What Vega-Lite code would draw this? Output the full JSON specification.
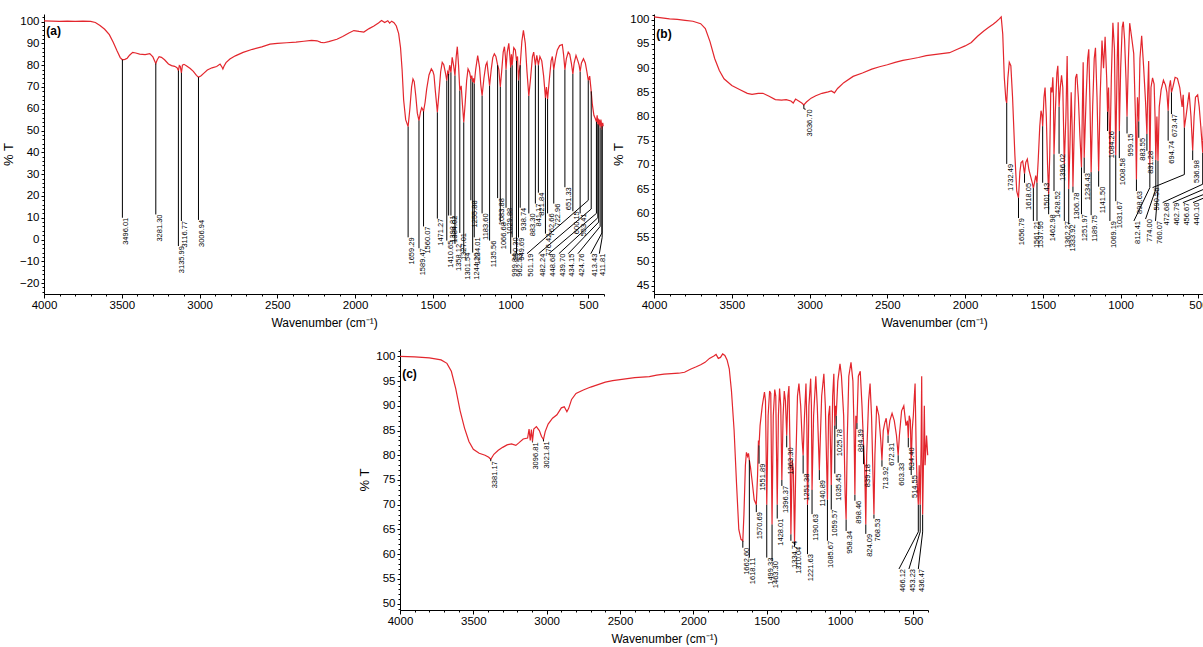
{
"$schema": "https://vega.github.io/schema/vega-lite/v6.json",
"padding": {"left": 2, "top": 13, "right": 0, "bottom": 0},
"background": "white",
"config": {
 "view": {"stroke": null},
 "axis": {"domainColor": "#000", "tickColor": "#000", "labelColor": "#000", "titleColor": "#000", "grid": false, "labelFont": "Liberation Sans", "labelFontSize": 11.5, "titleFont": "Liberation Sans", "titleFontWeight": "normal", "titleFontSize": 12}
},
"datasets": {
 "specA": [
  {"w":4000,"t":100.3},{"w":3950,"t":100.2},{"w":3900,"t":100.1},{"w":3850,"t":100.2},{"w":3800,"t":100.1},{"w":3750,"t":100.2},{"w":3700,"t":100.1},{"w":3670,"t":99.6},{"w":3640,"t":98.2},{"w":3610,"t":96.5},{"w":3580,"t":94},{"w":3555,"t":90.5},{"w":3530,"t":86.5},{"w":3510,"t":83.5},{"w":3496.01,"t":82.5},{"w":3480,"t":82.7},{"w":3465,"t":83.2},{"w":3450,"t":84.6},{"w":3430,"t":85.9},{"w":3410,"t":85.6},{"w":3385,"t":85.1},{"w":3350,"t":84.9},{"w":3320,"t":85.3},{"w":3300,"t":83.8},{"w":3290,"t":82.2},{"w":3281.3,"t":80.8},{"w":3272,"t":82.5},{"w":3260,"t":83.9},{"w":3245,"t":83.6},{"w":3225,"t":82.5},{"w":3200,"t":80.6},{"w":3180,"t":79.8},{"w":3160,"t":79.5},{"w":3145,"t":78.9},{"w":3135.99,"t":77.5},{"w":3130,"t":79.8},{"w":3124,"t":79.5},{"w":3116.77,"t":76.5},{"w":3110,"t":80},{"w":3100,"t":80.4},{"w":3085,"t":79.8},{"w":3060,"t":78.5},{"w":3040,"t":77.2},{"w":3020,"t":75.3},{"w":3006.94,"t":74.5},{"w":2990,"t":75.2},{"w":2970,"t":76.5},{"w":2950,"t":77.8},{"w":2920,"t":78.8},{"w":2890,"t":79.4},{"w":2868,"t":80.5},{"w":2856,"t":79.2},{"w":2850,"t":78.3},{"w":2843,"t":79.5},{"w":2830,"t":81.2},{"w":2805,"t":82.8},{"w":2770,"t":84.3},{"w":2720,"t":85.9},{"w":2660,"t":87.3},{"w":2600,"t":88.4},{"w":2547,"t":89.7},{"w":2500,"t":90},{"w":2440,"t":90.3},{"w":2380,"t":90.6},{"w":2330,"t":91},{"w":2280,"t":91.4},{"w":2245,"t":91.2},{"w":2220,"t":90.5},{"w":2200,"t":90.3},{"w":2170,"t":90.8},{"w":2117,"t":91.9},{"w":2080,"t":93.2},{"w":2040,"t":94.8},{"w":2008,"t":95.9},{"w":1975,"t":95.5},{"w":1944,"t":95.2},{"w":1910,"t":96.8},{"w":1879,"t":98},{"w":1850,"t":99.4},{"w":1830,"t":100.5},{"w":1810,"t":99.6},{"w":1790,"t":100.4},{"w":1778,"t":99.3},{"w":1765,"t":100.2},{"w":1750,"t":99.5},{"w":1735,"t":98},{"w":1720,"t":94.5},{"w":1708,"t":88},{"w":1698,"t":78},{"w":1688,"t":64},{"w":1675,"t":55},{"w":1659.29,"t":51.8},{"w":1648,"t":60},{"w":1637,"t":70},{"w":1628,"t":73.7},{"w":1620,"t":72.5},{"w":1610,"t":66},{"w":1600,"t":58},{"w":1589.47,"t":54.6},{"w":1580,"t":58.5},{"w":1572,"t":60.5},{"w":1566,"t":59.8},{"w":1560.07,"t":58.8},{"w":1550,"t":63},{"w":1540,"t":69},{"w":1525,"t":75.5},{"w":1510,"t":78.3},{"w":1500,"t":77.2},{"w":1493,"t":75.5},{"w":1484,"t":68},{"w":1471.27,"t":58.4},{"w":1460,"t":68},{"w":1450,"t":77},{"w":1440,"t":81.3},{"w":1430,"t":80.2},{"w":1418,"t":76},{"w":1410.65,"t":72.9},{"w":1405,"t":77},{"w":1398.81,"t":76},{"w":1392,"t":80},{"w":1384.02,"t":76.7},{"w":1376,"t":83.6},{"w":1367,"t":80},{"w":1358.12,"t":75.2},{"w":1350,"t":84},{"w":1343,"t":88.5},{"w":1335,"t":80},{"w":1327.01,"t":68.3},{"w":1318,"t":70.5},{"w":1310,"t":62},{"w":1301.54,"t":53.8},{"w":1292,"t":63},{"w":1283,"t":73},{"w":1274,"t":78.3},{"w":1264,"t":76.8},{"w":1255.88,"t":73.7},{"w":1250,"t":75.2},{"w":1244.2,"t":72.2},{"w":1239,"t":74},{"w":1234.01,"t":71.6},{"w":1225,"t":78},{"w":1212,"t":84.4},{"w":1200,"t":79},{"w":1192,"t":71},{"w":1183.6,"t":66},{"w":1172,"t":74},{"w":1160,"t":80},{"w":1152,"t":81.3},{"w":1144,"t":76},{"w":1135.56,"t":70.6},{"w":1125,"t":78},{"w":1115,"t":83.5},{"w":1105,"t":85.2},{"w":1095,"t":84},{"w":1088,"t":81.5},{"w":1083.88,"t":80},{"w":1076,"t":78},{"w":1066.68,"t":70},{"w":1058,"t":77},{"w":1048,"t":86},{"w":1040,"t":88.5},{"w":1034,"t":84},{"w":1029.88,"t":78},{"w":1022,"t":86},{"w":1012,"t":90},{"w":1005,"t":84},{"w":999.84,"t":79},{"w":995,"t":85},{"w":990.3,"t":80},{"w":980,"t":88},{"w":970,"t":87},{"w":962.53,"t":82},{"w":956,"t":84},{"w":949.69,"t":73},{"w":944,"t":77.5},{"w":938.74,"t":80},{"w":928,"t":91},{"w":918,"t":96},{"w":906,"t":90},{"w":895,"t":77},{"w":883.3,"t":65.9},{"w":872,"t":74},{"w":860,"t":84},{"w":852,"t":86},{"w":841.17,"t":80},{"w":832,"t":84.5},{"w":821.84,"t":80},{"w":812,"t":84},{"w":800,"t":82},{"w":788,"t":75},{"w":776.42,"t":65},{"w":770,"t":70},{"w":762.66,"t":64.5},{"w":752,"t":73},{"w":740,"t":82},{"w":732,"t":84},{"w":722.96,"t":78},{"w":712,"t":83},{"w":700,"t":87},{"w":685,"t":89},{"w":668,"t":89.5},{"w":660,"t":85},{"w":651.33,"t":78},{"w":642,"t":83},{"w":630,"t":86},{"w":620,"t":85},{"w":610,"t":81},{"w":600.15,"t":76},{"w":592,"t":81},{"w":580,"t":84.5},{"w":568,"t":82},{"w":560,"t":80},{"w":553.41,"t":77},{"w":545,"t":81},{"w":532,"t":83},{"w":520,"t":81},{"w":510,"t":77},{"w":501.19,"t":73},{"w":492,"t":75},{"w":482.24,"t":68},{"w":475,"t":62},{"w":465,"t":57},{"w":456,"t":55.5},{"w":448.68,"t":54},{"w":444,"t":57},{"w":439.7,"t":53},{"w":437,"t":55.5},{"w":434.15,"t":52.5},{"w":430,"t":55},{"w":424.76,"t":51.5},{"w":420,"t":55},{"w":416,"t":53},{"w":413.43,"t":50.5},{"w":411.81,"t":52},{"w":408,"t":53.5},{"w":405,"t":52}
 ],
 "annA": [
  {"lab":"3496.01","w":3496.01,"t":82.5,"yb":10,"lx":3496.01,"ly":10},
  {"lab":"3281.30","w":3281.3,"t":80.8,"yb":11.5,"lx":3281.3,"ly":11.5},
  {"lab":"3135.99","w":3135.99,"t":77.5,"yb":-3,"lx":3135.99,"ly":-3},
  {"lab":"3116.77","w":3116.77,"t":76.5,"yb":8.5,"lx":3116.77,"ly":8.5},
  {"lab":"3006.94","w":3006.94,"t":74.5,"yb":9,"lx":3006.94,"ly":9},
  {"lab":"1659.29","w":1659.29,"t":51.8,"yb":1,"lx":1659.29,"ly":1},
  {"lab":"1589.47","w":1589.47,"t":54.6,"yb":-4,"lx":1589.47,"ly":-4},
  {"lab":"1560.07","w":1560.07,"t":58.8,"yb":6,"lx":1560.07,"ly":6},
  {"lab":"1471.27","w":1471.27,"t":58.4,"yb":9.6,"lx":1471.27,"ly":9.6},
  {"lab":"1410.65","w":1410.65,"t":72.9,"yb":-0.5,"lx":1410.65,"ly":-0.5},
  {"lab":"1398.81","w":1398.81,"t":76,"yb":11,"lx":1398.81,"ly":11},
  {"lab":"1384.02","w":1384.02,"t":76.7,"yb":11,"lx":1384.02,"ly":11},
  {"lab":"1358.12","w":1358.12,"t":75.2,"yb":-2,"lx":1358.12,"ly":-2},
  {"lab":"1327.01","w":1327.01,"t":68.3,"yb":3,"lx":1327.01,"ly":3},
  {"lab":"1301.54","w":1301.54,"t":53.8,"yb":-6,"lx":1301.54,"ly":-6},
  {"lab":"1255.88","w":1255.88,"t":73.7,"yb":18,"lx":1255.88,"ly":18},
  {"lab":"1244.20","w":1244.2,"t":72.2,"yb":-6,"lx":1244.2,"ly":-6},
  {"lab":"1234.01","w":1234.01,"t":71.6,"yb":1,"lx":1234.01,"ly":1},
  {"lab":"1183.60","w":1183.6,"t":66,"yb":12,"lx":1183.6,"ly":12},
  {"lab":"1135.56","w":1135.56,"t":70.6,"yb":-0.5,"lx":1135.56,"ly":-0.5},
  {"lab":"1083.88","w":1083.88,"t":80,"yb":19,"lx":1083.88,"ly":19},
  {"lab":"1066.68","w":1066.68,"t":70,"yb":8,"lx":1066.68,"ly":8},
  {"lab":"1029.88","w":1029.88,"t":78,"yb":14.6,"lx":1029.88,"ly":14.6},
  {"lab":"999.84","w":999.84,"t":79,"yb":-6.5,"lx":999.84,"ly":-6.5},
  {"lab":"990.30","w":990.3,"t":80,"yb":1,"lx":990.3,"ly":1},
  {"lab":"962.53","w":962.53,"t":82,"yb":-6.5,"lx":962.53,"ly":-6.5},
  {"lab":"949.69","w":949.69,"t":73,"yb":0.9,"lx":949.69,"ly":0.9},
  {"lab":"938.74","w":938.74,"t":80,"yb":14.6,"lx":938.74,"ly":14.6},
  {"lab":"883.30","w":883.3,"t":65.9,"yb":12,"lx":883.3,"ly":12},
  {"lab":"841.17","w":841.17,"t":80,"yb":16.5,"lx":841.17,"ly":16.5},
  {"lab":"821.84","w":821.84,"t":80,"yb":21.5,"lx":821.84,"ly":21.5},
  {"lab":"776.42","w":776.42,"t":65,"yb":2.7,"lx":776.42,"ly":2.7},
  {"lab":"762.66","w":762.66,"t":64.5,"yb":12,"lx":762.66,"ly":12},
  {"lab":"722.96","w":722.96,"t":78,"yb":16.5,"lx":722.96,"ly":16.5},
  {"lab":"651.33","w":651.33,"t":78,"yb":24,"lx":651.33,"ly":24},
  {"lab":"600.15","w":600.15,"t":76,"yb":13,"lx":600.15,"ly":13},
  {"lab":"553.41","w":553.41,"t":77,"yb":12,"lx":553.41,"ly":12},
  {"lab":"501.19","w":501.19,"t":73,"yb":18,"lx":895,"ly":-6.5},
  {"lab":"482.24","w":482.24,"t":68,"yb":14,"lx":820,"ly":-6.5},
  {"lab":"448.68","w":448.68,"t":54,"yb":12,"lx":755,"ly":-6.5},
  {"lab":"439.70","w":439.7,"t":53,"yb":10,"lx":690,"ly":-6.5},
  {"lab":"434.15","w":434.15,"t":52.5,"yb":8,"lx":630,"ly":-6.5},
  {"lab":"424.76","w":424.76,"t":51.5,"yb":6,"lx":568,"ly":-6.5},
  {"lab":"413.43","w":413.43,"t":50.5,"yb":3,"lx":485,"ly":-6.5},
  {"lab":"411.81","w":411.81,"t":52,"yb":1,"lx":430,"ly":-6.5}
 ],
 "specB": [
  {"w":4000,"t":100.6},{"w":3950,"t":100.4},{"w":3900,"t":100.2},{"w":3850,"t":100.1},{"w":3800,"t":99.9},{"w":3750,"t":99.7},{"w":3700,"t":99.2},{"w":3670,"t":98.2},{"w":3640,"t":95.5},{"w":3610,"t":92},{"w":3580,"t":89.5},{"w":3550,"t":87.8},{"w":3500,"t":86.4},{"w":3450,"t":85.6},{"w":3400,"t":84.8},{"w":3370,"t":84.6},{"w":3330,"t":84.8},{"w":3300,"t":84.8},{"w":3260,"t":84.2},{"w":3220,"t":83.5},{"w":3180,"t":83.4},{"w":3150,"t":83.5},{"w":3120,"t":83.2},{"w":3105,"t":82.8},{"w":3090,"t":83.6},{"w":3070,"t":83.2},{"w":3050,"t":82.8},{"w":3036.7,"t":82.4},{"w":3020,"t":83},{"w":2990,"t":83.8},{"w":2960,"t":84.3},{"w":2920,"t":84.8},{"w":2880,"t":85.1},{"w":2860,"t":85.3},{"w":2840,"t":84.9},{"w":2820,"t":85.8},{"w":2780,"t":87},{"w":2720,"t":88.3},{"w":2660,"t":89},{"w":2600,"t":89.8},{"w":2550,"t":90.3},{"w":2500,"t":90.7},{"w":2450,"t":91.2},{"w":2400,"t":91.6},{"w":2350,"t":91.9},{"w":2300,"t":92.2},{"w":2250,"t":92.6},{"w":2200,"t":92.8},{"w":2150,"t":93},{"w":2100,"t":93.2},{"w":2050,"t":93.9},{"w":2000,"t":94.6},{"w":1960,"t":95.3},{"w":1920,"t":96.6},{"w":1880,"t":97.7},{"w":1850,"t":98.4},{"w":1820,"t":99.1},{"w":1800,"t":99.6},{"w":1780,"t":100.2},{"w":1768,"t":100.6},{"w":1758,"t":97},{"w":1748,"t":88},{"w":1738,"t":83.5},{"w":1732.49,"t":82.8},{"w":1725,"t":88},{"w":1716,"t":91.2},{"w":1706,"t":90.5},{"w":1695,"t":84},{"w":1680,"t":72},{"w":1668,"t":64.5},{"w":1656.79,"t":63.2},{"w":1648,"t":68.5},{"w":1640,"t":70.5},{"w":1630,"t":70.8},{"w":1624,"t":69.5},{"w":1618.05,"t":68.2},{"w":1610,"t":70.5},{"w":1600,"t":71.2},{"w":1590,"t":69},{"w":1578,"t":67.5},{"w":1568,"t":66.3},{"w":1561.21,"t":65.2},{"w":1553,"t":66.5},{"w":1546,"t":67.8},{"w":1537.95,"t":66.3},{"w":1530,"t":71},{"w":1520,"t":78},{"w":1512,"t":81.2},{"w":1506,"t":80.3},{"w":1501.43,"t":78},{"w":1493,"t":84},{"w":1486,"t":86},{"w":1478,"t":80},{"w":1470,"t":70},{"w":1462.98,"t":63.9},{"w":1456,"t":72},{"w":1449,"t":86},{"w":1442,"t":85},{"w":1436,"t":88.1},{"w":1432,"t":84},{"w":1428.52,"t":72.2},{"w":1420,"t":81},{"w":1410,"t":89},{"w":1404,"t":90.5},{"w":1399,"t":86},{"w":1396.02,"t":82},{"w":1388,"t":86},{"w":1380,"t":88.5},{"w":1372,"t":86},{"w":1362.27,"t":70.2},{"w":1352,"t":80},{"w":1344,"t":92.5},{"w":1338,"t":78},{"w":1333.92,"t":65},{"w":1326,"t":74},{"w":1318,"t":85},{"w":1312,"t":78},{"w":1306.78,"t":65.5},{"w":1298,"t":78},{"w":1290,"t":88},{"w":1282,"t":88.8},{"w":1272,"t":84},{"w":1262,"t":76},{"w":1251.97,"t":69.5},{"w":1246,"t":82},{"w":1241,"t":91.2},{"w":1238,"t":82},{"w":1234.43,"t":71.5},{"w":1222,"t":84},{"w":1212,"t":92},{"w":1205,"t":93.9},{"w":1198,"t":84},{"w":1189.75,"t":68.5},{"w":1180,"t":82},{"w":1170,"t":92},{"w":1162,"t":94.2},{"w":1152,"t":84},{"w":1141.5,"t":68.7},{"w":1132,"t":84},{"w":1120,"t":95.7},{"w":1110,"t":90},{"w":1100,"t":96.5},{"w":1090,"t":88},{"w":1084.26,"t":81},{"w":1078,"t":86},{"w":1069.19,"t":72},{"w":1060,"t":88},{"w":1050,"t":99.4},{"w":1040,"t":94},{"w":1031.67,"t":72},{"w":1022,"t":92},{"w":1016,"t":99.5},{"w":1008.58,"t":77},{"w":1000,"t":90},{"w":990,"t":98.5},{"w":983,"t":99.6},{"w":975,"t":96},{"w":966,"t":88},{"w":959.15,"t":80},{"w":950,"t":92},{"w":942,"t":99.3},{"w":930,"t":96.5},{"w":916,"t":93},{"w":905,"t":80},{"w":898.63,"t":67},{"w":892,"t":84},{"w":883.55,"t":79},{"w":876,"t":92},{"w":865,"t":96.7},{"w":852,"t":90},{"w":840,"t":83},{"w":831.28,"t":76.4},{"w":826,"t":85},{"w":820,"t":91.5},{"w":816,"t":82},{"w":812.41,"t":70},{"w":805,"t":86},{"w":795,"t":88},{"w":785,"t":86.7},{"w":779,"t":80},{"w":774,"t":71},{"w":767,"t":80},{"w":760.07,"t":70.8},{"w":752,"t":82},{"w":740,"t":85.5},{"w":725,"t":87.5},{"w":712,"t":86.5},{"w":703,"t":85},{"w":694.74,"t":81.2},{"w":688,"t":86},{"w":680,"t":87.5},{"w":673.47,"t":85},{"w":665,"t":86},{"w":650,"t":88.1},{"w":635,"t":87.9},{"w":620,"t":86},{"w":605,"t":82},{"w":598,"t":84.5},{"w":590.56,"t":77.7},{"w":580,"t":80},{"w":570,"t":82.5},{"w":560,"t":85},{"w":548,"t":80},{"w":536.98,"t":73},{"w":528,"t":80},{"w":519,"t":84},{"w":505,"t":84.5},{"w":495,"t":82},{"w":485,"t":78},{"w":472.68,"t":72.5},{"w":468,"t":78},{"w":462.79,"t":70},{"w":459,"t":76},{"w":456.67,"t":69},{"w":450,"t":75},{"w":445,"t":78},{"w":440.1,"t":68},{"w":432,"t":74},{"w":420,"t":72},{"w":410,"t":75},{"w":400,"t":74}
 ],
 "annB": [
  {"lab":"3036.70","w":3036.7,"t":82.4,"yb":81.6,"lx":3025,"ly":81.5},
  {"lab":"1732.49","w":1732.49,"t":82.8,"yb":70.2,"lx":1732.49,"ly":70.2},
  {"lab":"1656.79","w":1656.79,"t":63.2,"yb":59,"lx":1656.79,"ly":59},
  {"lab":"1618.05","w":1618.05,"t":68.2,"yb":66.3,"lx":1618.05,"ly":66.3},
  {"lab":"1561.21","w":1561.21,"t":65.2,"yb":58.4,"lx":1561.21,"ly":58.4},
  {"lab":"1537.95","w":1537.95,"t":66.3,"yb":58.4,"lx":1537.95,"ly":58.4},
  {"lab":"1501.43","w":1501.43,"t":78,"yb":66.3,"lx":1501.43,"ly":66.3},
  {"lab":"1462.98","w":1462.98,"t":63.9,"yb":59.8,"lx":1462.98,"ly":59.8},
  {"lab":"1428.52","w":1428.52,"t":72.2,"yb":64.6,"lx":1428.52,"ly":64.6},
  {"lab":"1396.02","w":1396.02,"t":82,"yb":72.3,"lx":1396.02,"ly":72.3},
  {"lab":"1362.27","w":1362.27,"t":70.2,"yb":58.4,"lx":1362.27,"ly":58.4},
  {"lab":"1333.92","w":1333.92,"t":65,"yb":57.7,"lx":1333.92,"ly":57.7},
  {"lab":"1306.78","w":1306.78,"t":65.5,"yb":64.3,"lx":1306.78,"ly":64.3},
  {"lab":"1251.97","w":1251.97,"t":69.5,"yb":59.8,"lx":1251.97,"ly":59.8},
  {"lab":"1234.43","w":1234.43,"t":71.5,"yb":68.3,"lx":1234.43,"ly":68.3},
  {"lab":"1189.75","w":1189.75,"t":68.5,"yb":59.6,"lx":1189.75,"ly":59.6},
  {"lab":"1141.50","w":1141.5,"t":68.7,"yb":65.5,"lx":1141.5,"ly":65.5},
  {"lab":"1084.26","w":1084.26,"t":81,"yb":77,"lx":1084.26,"ly":77},
  {"lab":"1069.19","w":1069.19,"t":72,"yb":58.4,"lx":1069.19,"ly":58.4},
  {"lab":"1031.67","w":1031.67,"t":72,"yb":62.5,"lx":1031.67,"ly":62.5},
  {"lab":"1008.58","w":1008.58,"t":77,"yb":71.4,"lx":1008.58,"ly":71.4},
  {"lab":"959.15","w":959.15,"t":80,"yb":76.5,"lx":959.15,"ly":76.5},
  {"lab":"898.63","w":898.63,"t":67,"yb":64.6,"lx":898.63,"ly":64.6},
  {"lab":"883.55","w":883.55,"t":79,"yb":75.6,"lx":883.55,"ly":75.6},
  {"lab":"831.28","w":831.28,"t":76.4,"yb":72.9,"lx":831.28,"ly":72.9},
  {"lab":"812.41","w":812.41,"t":70,"yb":65.3,"lx":915,"ly":58.4},
  {"lab":"774.00","w":774,"t":71,"yb":65,"lx":840,"ly":58.8},
  {"lab":"760.07","w":760.07,"t":70.8,"yb":65,"lx":776,"ly":58.4},
  {"lab":"590.56","w":590.56,"t":77.7,"yb":68,"lx":795,"ly":65.3},
  {"lab":"694.74","w":694.74,"t":81.2,"yb":75,"lx":694.74,"ly":75},
  {"lab":"673.47","w":673.47,"t":85,"yb":80.5,"lx":673.47,"ly":80.5},
  {"lab":"536.98","w":536.98,"t":73,"yb":71,"lx":536.98,"ly":71},
  {"lab":"472.68","w":472.68,"t":72.5,"yb":66,"lx":730,"ly":62.2},
  {"lab":"462.79","w":462.79,"t":70,"yb":65,"lx":665,"ly":62.2},
  {"lab":"456.67","w":456.67,"t":69,"yb":64,"lx":600,"ly":62.2},
  {"lab":"440.10","w":440.1,"t":68,"yb":63.5,"lx":535,"ly":62.2}
 ],
 "specC": [
  {"w":4000,"t":100},{"w":3900,"t":99.9},{"w":3800,"t":99.7},{"w":3720,"t":99.3},{"w":3680,"t":98.6},{"w":3650,"t":97},{"w":3620,"t":93.5},{"w":3590,"t":89},{"w":3560,"t":85.5},{"w":3530,"t":82.8},{"w":3500,"t":81.2},{"w":3460,"t":80.4},{"w":3420,"t":80},{"w":3395,"t":79.6},{"w":3381.17,"t":79.2},{"w":3360,"t":80.2},{"w":3330,"t":81},{"w":3300,"t":81.6},{"w":3270,"t":82.1},{"w":3240,"t":82.3},{"w":3210,"t":82},{"w":3190,"t":82.5},{"w":3160,"t":83.3},{"w":3130,"t":83.5},{"w":3120,"t":85.3},{"w":3112,"t":83},{"w":3104,"t":85.2},{"w":3096.81,"t":82.8},{"w":3088,"t":85.3},{"w":3070,"t":85.8},{"w":3050,"t":85},{"w":3035,"t":83.8},{"w":3021.81,"t":83.2},{"w":3010,"t":84.8},{"w":2990,"t":86.3},{"w":2960,"t":87.5},{"w":2930,"t":88.2},{"w":2900,"t":89.6},{"w":2880,"t":89.8},{"w":2862,"t":88.8},{"w":2850,"t":89.5},{"w":2830,"t":91.3},{"w":2800,"t":92.5},{"w":2750,"t":93.2},{"w":2700,"t":93.8},{"w":2650,"t":94.3},{"w":2600,"t":94.8},{"w":2550,"t":95.1},{"w":2500,"t":95.3},{"w":2450,"t":95.5},{"w":2400,"t":95.7},{"w":2350,"t":95.8},{"w":2300,"t":95.9},{"w":2250,"t":96.2},{"w":2200,"t":96.4},{"w":2150,"t":96.5},{"w":2100,"t":96.6},{"w":2060,"t":96.8},{"w":2020,"t":97.4},{"w":1980,"t":97.9},{"w":1950,"t":98.3},{"w":1920,"t":98.8},{"w":1890,"t":99.6},{"w":1860,"t":100.1},{"w":1845,"t":100.4},{"w":1830,"t":99.6},{"w":1815,"t":99.8},{"w":1800,"t":100.5},{"w":1785,"t":100.2},{"w":1770,"t":99.3},{"w":1755,"t":97.5},{"w":1740,"t":93},{"w":1722,"t":85},{"w":1705,"t":74},{"w":1690,"t":65},{"w":1675,"t":63},{"w":1662.6,"t":62.7},{"w":1655,"t":68},{"w":1645,"t":78},{"w":1638,"t":80.6},{"w":1630,"t":79.8},{"w":1624,"t":80.4},{"w":1618.11,"t":79},{"w":1610,"t":77.5},{"w":1600,"t":75},{"w":1585,"t":71},{"w":1570.69,"t":70},{"w":1562,"t":76},{"w":1556,"t":83},{"w":1551.89,"t":82},{"w":1545,"t":86},{"w":1530,"t":90},{"w":1515,"t":92.8},{"w":1508,"t":91},{"w":1499.33,"t":70},{"w":1490,"t":88},{"w":1480,"t":93},{"w":1472,"t":92.5},{"w":1463.3,"t":66},{"w":1455,"t":88},{"w":1445,"t":93.3},{"w":1438,"t":92},{"w":1428.01,"t":70},{"w":1420,"t":88},{"w":1412,"t":93.5},{"w":1404,"t":90},{"w":1396.37,"t":75},{"w":1388,"t":88},{"w":1380,"t":93},{"w":1372,"t":91},{"w":1363.3,"t":84},{"w":1355,"t":92},{"w":1348,"t":94},{"w":1340,"t":80},{"w":1334.74,"t":64},{"w":1326,"t":79},{"w":1318,"t":77},{"w":1310.04,"t":62.5},{"w":1300,"t":80},{"w":1290,"t":92},{"w":1280,"t":94.5},{"w":1268,"t":90},{"w":1258,"t":83},{"w":1251.38,"t":80},{"w":1242,"t":88},{"w":1232,"t":94.5},{"w":1226,"t":86},{"w":1221.63,"t":70},{"w":1212,"t":90},{"w":1200,"t":95.5},{"w":1195,"t":90},{"w":1190.63,"t":73},{"w":1180,"t":88},{"w":1165,"t":96},{"w":1155,"t":90},{"w":1140.89,"t":77},{"w":1125,"t":92},{"w":1110,"t":96.5},{"w":1100,"t":90},{"w":1085.67,"t":71},{"w":1078,"t":88},{"w":1070,"t":90},{"w":1059.57,"t":74},{"w":1050,"t":92},{"w":1042,"t":96.5},{"w":1035.45,"t":86},{"w":1031,"t":90},{"w":1025.78,"t":88},{"w":1015,"t":95},{"w":1000,"t":98.5},{"w":990,"t":96},{"w":975,"t":88},{"w":965,"t":72},{"w":958.34,"t":67},{"w":950,"t":84},{"w":940,"t":96},{"w":925,"t":98.8},{"w":912,"t":95},{"w":904,"t":85},{"w":898.46,"t":72},{"w":892,"t":88},{"w":884.39,"t":86.5},{"w":875,"t":96},{"w":862,"t":97},{"w":850,"t":90},{"w":839.18,"t":82},{"w":832,"t":78},{"w":824.09,"t":66},{"w":818,"t":80},{"w":805,"t":91},{"w":795,"t":94.5},{"w":785,"t":88},{"w":775,"t":76},{"w":768.53,"t":68},{"w":762,"t":80},{"w":750,"t":90},{"w":735,"t":88},{"w":722,"t":83},{"w":713.92,"t":79},{"w":705,"t":85},{"w":695,"t":86.5},{"w":685,"t":87.5},{"w":672.31,"t":84},{"w":660,"t":87},{"w":645,"t":88.5},{"w":630,"t":87},{"w":615,"t":84},{"w":603.33,"t":80},{"w":595,"t":84},{"w":580,"t":89},{"w":565,"t":90},{"w":550,"t":86},{"w":540,"t":87},{"w":534.4,"t":83.5},{"w":528,"t":88},{"w":520,"t":87},{"w":514.55,"t":78},{"w":508,"t":85},{"w":500,"t":88},{"w":493,"t":92},{"w":488,"t":94.5},{"w":480,"t":80},{"w":475,"t":75},{"w":466.12,"t":70},{"w":460,"t":78},{"w":453.23,"t":70},{"w":447,"t":82},{"w":443,"t":96},{"w":440,"t":80},{"w":436.47,"t":68},{"w":430,"t":80},{"w":425,"t":90},{"w":420,"t":78},{"w":410,"t":84},{"w":402,"t":80}
 ],
 "annC": [
  {"lab":"3381.17","w":3381.17,"t":79.2,"yb":78.8,"lx":3381.17,"ly":78.8},
  {"lab":"3096.81","w":3096.81,"t":82.8,"yb":82.6,"lx":3096.81,"ly":82.6},
  {"lab":"3021.81","w":3021.81,"t":83.2,"yb":82.8,"lx":3021.81,"ly":82.8},
  {"lab":"1662.60","w":1662.6,"t":62.7,"yb":61.3,"lx":1662.6,"ly":61.3},
  {"lab":"1618.11","w":1618.11,"t":79,"yb":59.3,"lx":1618.11,"ly":59.3},
  {"lab":"1570.69","w":1570.69,"t":70,"yb":68.5,"lx":1570.69,"ly":68.5},
  {"lab":"1551.89","w":1551.89,"t":82,"yb":78.3,"lx":1551.89,"ly":78.3},
  {"lab":"1499.33","w":1499.33,"t":70,"yb":59.3,"lx":1499.33,"ly":59.3},
  {"lab":"1463.30","w":1463.3,"t":66,"yb":58.6,"lx":1463.3,"ly":58.6},
  {"lab":"1428.01","w":1428.01,"t":70,"yb":67.2,"lx":1428.01,"ly":67.2},
  {"lab":"1396.37","w":1396.37,"t":75,"yb":73.8,"lx":1396.37,"ly":73.8},
  {"lab":"1363.30","w":1363.3,"t":84,"yb":81.6,"lx":1363.3,"ly":81.6},
  {"lab":"1334.74","w":1334.74,"t":64,"yb":62.7,"lx":1334.74,"ly":62.7},
  {"lab":"1310.04","w":1310.04,"t":62.5,"yb":61.5,"lx":1310.04,"ly":61.5},
  {"lab":"1251.38","w":1251.38,"t":80,"yb":76.3,"lx":1251.38,"ly":76.3},
  {"lab":"1221.63","w":1221.63,"t":70,"yb":60,"lx":1221.63,"ly":60},
  {"lab":"1190.63","w":1190.63,"t":73,"yb":68.1,"lx":1190.63,"ly":68.1},
  {"lab":"1140.89","w":1140.89,"t":77,"yb":75,"lx":1140.89,"ly":75},
  {"lab":"1085.67","w":1085.67,"t":71,"yb":62.7,"lx":1085.67,"ly":62.7},
  {"lab":"1059.57","w":1059.57,"t":74,"yb":69,"lx":1059.57,"ly":69},
  {"lab":"1035.45","w":1035.45,"t":86,"yb":76.3,"lx":1035.45,"ly":76.3},
  {"lab":"1025.78","w":1025.78,"t":88,"yb":85.3,"lx":1025.78,"ly":85.3},
  {"lab":"958.34","w":958.34,"t":67,"yb":64.7,"lx":958.34,"ly":64.7},
  {"lab":"898.46","w":898.46,"t":72,"yb":70.8,"lx":898.46,"ly":70.8},
  {"lab":"884.39","w":884.39,"t":86.5,"yb":85.3,"lx":884.39,"ly":85.3},
  {"lab":"839.18","w":839.18,"t":82,"yb":78.2,"lx":839.18,"ly":78.2},
  {"lab":"824.09","w":824.09,"t":66,"yb":64.1,"lx":824.09,"ly":64.1},
  {"lab":"768.53","w":768.53,"t":68,"yb":67.2,"lx":768.53,"ly":67.2},
  {"lab":"713.92","w":713.92,"t":79,"yb":77.7,"lx":713.92,"ly":77.7},
  {"lab":"672.31","w":672.31,"t":84,"yb":82.5,"lx":672.31,"ly":82.5},
  {"lab":"603.33","w":603.33,"t":80,"yb":78.5,"lx":603.33,"ly":78.5},
  {"lab":"534.40","w":534.4,"t":83.5,"yb":81.6,"lx":534.4,"ly":81.6},
  {"lab":"514.55","w":514.55,"t":78,"yb":76,"lx":514.55,"ly":76},
  {"lab":"466.12","w":466.12,"t":70,"yb":64.5,"lx":598,"ly":57},
  {"lab":"453.23","w":453.23,"t":70,"yb":64.5,"lx":530,"ly":57},
  {"lab":"436.47","w":436.47,"t":68,"yb":64.5,"lx":466,"ly":57}
 ]
},
"vconcat": [
 {"hconcat": [
  {"width": 560, "height": 280,
   "layer": [
    {"data": {"name": "specA"}, "mark": {"type": "line", "color": "#e3262d", "strokeWidth": 1.2},
     "encoding": {
      "x": {"field": "w", "type": "quantitative", "scale": {"domain": [400, 4000], "reverse": true, "nice": false, "zero": false},
            "axis": {"title": "Wavenumber (cm\u207b\u00b9)", "tickCount": 8, "format": "d", "tickSize": 4, "labelPadding": 1, "labelFlush": false, "labelOverlap": false, "titlePadding": 7}},
      "y": {"field": "t", "type": "quantitative", "scale": {"domain": [-25, 103.5], "nice": false, "zero": false},
            "axis": {"title": "% T", "titleFontSize": 13, "tickCount": 13, "format": "d", "tickSize": 3, "labelPadding": 2, "titlePadding": 4, "labelFlush": false}}}},
    {"data": {"name": "annA"}, "mark": {"type": "rule", "color": "#000", "strokeWidth": 1},
     "encoding": {
      "x": {"field": "w", "type": "quantitative", "axis": {"orient": "bottom", "tickCount": 36, "labels": false, "domain": false, "title": null, "tickSize": 2}},
      "y": {"field": "t", "type": "quantitative", "axis": {"orient": "left", "tickCount": 64, "labels": false, "domain": false, "title": null, "tickSize": 2}},
      "y2": {"field": "yb"}}},
    {"data": {"name": "annA"}, "mark": {"type": "rule", "color": "#000", "strokeWidth": 1},
     "encoding": {"x": {"field": "w", "type": "quantitative", "axis": null}, "y": {"field": "yb", "type": "quantitative", "axis": null}, "x2": {"field": "lx"}, "y2": {"field": "ly"}}},
    {"data": {"name": "annA"}, "mark": {"type": "text", "angle": 270, "align": "right", "baseline": "top", "fontSize": 7.5, "font": "Liberation Sans", "color": "#000"},
     "encoding": {"x": {"field": "lx", "type": "quantitative", "axis": null}, "y": {"field": "ly", "type": "quantitative", "axis": null}, "text": {"field": "lab", "type": "nominal"}}},
    {"data": {"values": [{}]}, "mark": {"type": "text", "text": "(a)", "fontWeight": "bold", "fontSize": 12, "align": "left", "baseline": "middle", "font": "Liberation Sans", "color": "#000"},
     "encoding": {"x": {"datum": 3985, "type": "quantitative", "axis": null}, "y": {"datum": 95.5, "type": "quantitative", "axis": null}}}
   ],
   "resolve": {"axis": {"x": "independent", "y": "independent"}}},
  {"width": 560, "height": 280,
   "layer": [
    {"data": {"name": "specB"}, "mark": {"type": "line", "color": "#e3262d", "strokeWidth": 1.2},
     "encoding": {
      "x": {"field": "w", "type": "quantitative", "scale": {"domain": [400, 4000], "reverse": true, "nice": false, "zero": false},
            "axis": {"title": "Wavenumber (cm\u207b\u00b9)", "tickCount": 8, "format": "d", "tickSize": 4, "labelPadding": 1, "labelFlush": false, "labelOverlap": false, "titlePadding": 7}},
      "y": {"field": "t", "type": "quantitative", "scale": {"domain": [43.3, 101.2], "nice": false, "zero": false},
            "axis": {"title": "% T", "titleFontSize": 13, "tickCount": 12, "format": "d", "tickSize": 3, "labelPadding": 2, "titlePadding": 4, "labelFlush": false}}}},
    {"data": {"name": "annB"}, "mark": {"type": "rule", "color": "#000", "strokeWidth": 1},
     "encoding": {
      "x": {"field": "w", "type": "quantitative", "axis": {"orient": "bottom", "tickCount": 36, "labels": false, "domain": false, "title": null, "tickSize": 2}},
      "y": {"field": "t", "type": "quantitative", "axis": {"orient": "left", "tickCount": 58, "labels": false, "domain": false, "title": null, "tickSize": 2}},
      "y2": {"field": "yb"}}},
    {"data": {"name": "annB"}, "mark": {"type": "rule", "color": "#000", "strokeWidth": 1},
     "encoding": {"x": {"field": "w", "type": "quantitative", "axis": null}, "y": {"field": "yb", "type": "quantitative", "axis": null}, "x2": {"field": "lx"}, "y2": {"field": "ly"}}},
    {"data": {"name": "annB"}, "mark": {"type": "text", "angle": 270, "align": "right", "baseline": "top", "fontSize": 7.5, "font": "Liberation Sans", "color": "#000"},
     "encoding": {"x": {"field": "lx", "type": "quantitative", "axis": null}, "y": {"field": "ly", "type": "quantitative", "axis": null}, "text": {"field": "lab", "type": "nominal"}}},
    {"data": {"values": [{}]}, "mark": {"type": "text", "text": "(b)", "fontWeight": "bold", "fontSize": 12, "align": "left", "baseline": "middle", "font": "Liberation Sans", "color": "#000"},
     "encoding": {"x": {"datum": 3985, "type": "quantitative", "axis": null}, "y": {"datum": 97, "type": "quantitative", "axis": null}}}
   ],
   "resolve": {"axis": {"x": "independent", "y": "independent"}}}
 ], "spacing": 5},
 {"hconcat": [
  {"width": 314, "height": 20, "data": {"values": [{}]}, "mark": {"type": "point", "opacity": 0}, "encoding": {}},
  {"width": 528, "height": 261,
   "layer": [
    {"data": {"name": "specC"}, "mark": {"type": "line", "color": "#e3262d", "strokeWidth": 1.2},
     "encoding": {
      "x": {"field": "w", "type": "quantitative", "scale": {"domain": [400, 4000], "reverse": true, "nice": false, "zero": false},
            "axis": {"title": "Wavenumber (cm\u207b\u00b9)", "tickCount": 8, "format": "d", "tickSize": 4, "labelPadding": 1, "labelFlush": false, "labelOverlap": false, "titlePadding": 7}},
      "y": {"field": "t", "type": "quantitative", "scale": {"domain": [48.7, 101.5], "nice": false, "zero": false},
            "axis": {"title": "% T", "titleFontSize": 13, "tickCount": 11, "format": "d", "tickSize": 3, "labelPadding": 2, "titlePadding": 4, "labelFlush": false}}}},
    {"data": {"name": "annC"}, "mark": {"type": "rule", "color": "#000", "strokeWidth": 1},
     "encoding": {
      "x": {"field": "w", "type": "quantitative", "axis": {"orient": "bottom", "tickCount": 36, "labels": false, "domain": false, "title": null, "tickSize": 2}},
      "y": {"field": "t", "type": "quantitative", "axis": {"orient": "left", "tickCount": 53, "labels": false, "domain": false, "title": null, "tickSize": 2}},
      "y2": {"field": "yb"}}},
    {"data": {"name": "annC"}, "mark": {"type": "rule", "color": "#000", "strokeWidth": 1},
     "encoding": {"x": {"field": "w", "type": "quantitative", "axis": null}, "y": {"field": "yb", "type": "quantitative", "axis": null}, "x2": {"field": "lx"}, "y2": {"field": "ly"}}},
    {"data": {"name": "annC"}, "mark": {"type": "text", "angle": 270, "align": "right", "baseline": "top", "fontSize": 7.5, "font": "Liberation Sans", "color": "#000"},
     "encoding": {"x": {"field": "lx", "type": "quantitative", "axis": null}, "y": {"field": "ly", "type": "quantitative", "axis": null}, "text": {"field": "lab", "type": "nominal"}}},
    {"data": {"values": [{}]}, "mark": {"type": "text", "text": "(c)", "fontWeight": "bold", "fontSize": 12, "align": "left", "baseline": "middle", "font": "Liberation Sans", "color": "#000"},
     "encoding": {"x": {"datum": 3985, "type": "quantitative", "axis": null}, "y": {"datum": 96.5, "type": "quantitative", "axis": null}}}
   ],
   "resolve": {"axis": {"x": "independent", "y": "independent"}}}
 ], "spacing": 0}
],
"spacing": 20
}
